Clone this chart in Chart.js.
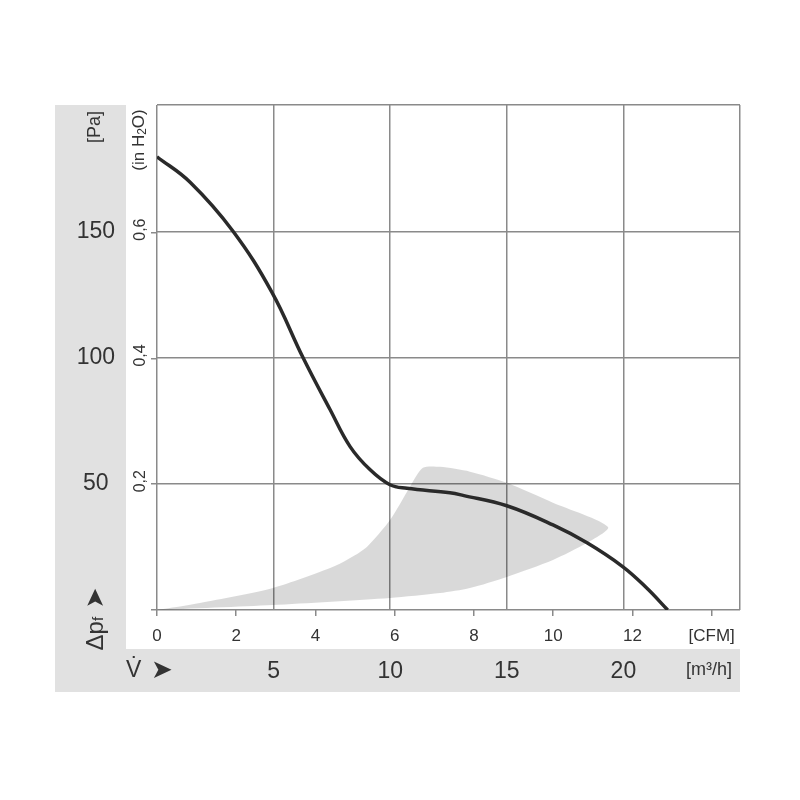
<!DOCTYPE html>
<html>
<head>
<meta charset="utf-8">
<script src="https://cdn.jsdelivr.net/npm/chart.js@4.4.1/dist/chart.umd.min.js"></script>
<style>
  body { margin: 0; background: #fff; }
  #wrap { width: 800px; height: 800px; }
</style>
</head>
<body>
<div id="wrap"><canvas id="fanChart"></canvas></div>
<script>
// Fan curve: flow in m³/h, static pressure in Pa
const flowM3h    = [0, 1.42, 3.26, 4.93, 6.26, 7.42, 8.28, 9.13, 9.99, 10.72, 12.56, 13.12, 15.0, 16.98, 18.44, 19.98, 21.0, 21.9];
const pressurePa = [179.5, 169.4, 150, 125.8, 100, 79.4, 64.7, 55.6, 49.6, 48.2, 46.4, 45.4, 41.3, 33.7, 26.6, 17.1, 8.7, 0];

// Grey operating zone outline (goes round from the origin and back)
const zoneFlow = [0, 1.84, 4.97, 7.55, 8.28, 9.0, 10.0, 10.85, 11.4, 12.14, 13.42, 15.0, 16.98, 19.34, 18.44, 16.98, 15.0, 13.42, 12.14, 10.0, 4.97, 0];
const zonePa   = [0, 2.8, 8.7, 17.1, 20.6, 25.0, 35.7, 48.8, 56.3, 56.7, 54.8, 50.4, 42.5, 32.9, 26.6, 19.8, 13.1, 8.7, 6.7, 4.8, 2.0, 0];

// Tick labels
const paTicks    = [0, 50, 100, 150, 200];
const inH2OTicks = [0, 0.2, 0.4, 0.6];
const cfmTicks   = [0, 2, 4, 6, 8, 10, 12, 14];
const m3hTicks   = [0, 5, 10, 15, 20, 25];

const M3H_PER_CFM = 1.699;
const PA_PER_INH2O = 249.089;
const FONT = '"Liberation Sans", Arial, sans-serif';
const TEXT = '#333';
const GRID = '#8a8a8a';

function setTicks(list) {
    return (scale) => { scale.ticks = list.map(v => ({ value: v })); };
}

// draw text turned 90° anticlockwise, pieces run bottom to top
function drawUpText(ctx, x, y, pieces) {
    ctx.save();
    ctx.translate(x, y);
    ctx.rotate(-Math.PI / 2);
    ctx.textBaseline = 'middle';
    ctx.textAlign = 'left';
    let total = 0;
    pieces.forEach(p => { ctx.font = p.font; total += ctx.measureText(p.text).width; });
    let pos = -total / 2;
    pieces.forEach(p => {
        ctx.font = p.font;
        ctx.fillText(p.text, pos, p.dy || 0);
        pos += ctx.measureText(p.text).width;
    });
    ctx.restore();
}

const fanLabels = {
    id: 'fanLabels',
    beforeDraw(chart) {
        const { ctx, chartArea, scales } = chart;
        const yPa = scales.y, xM = scales.x;
        ctx.save();
        ctx.fillStyle = '#fff';
        ctx.fillRect(0, 0, chart.width, chart.height);
        ctx.fillStyle = '#e1e1e1';
        ctx.fillRect(yPa.left, chartArea.top, yPa.width, xM.bottom - chartArea.top);
        ctx.fillRect(yPa.left, xM.top, chartArea.right - yPa.left, xM.height);
        ctx.restore();
    },
    afterDraw(chart) {
        const { ctx, chartArea, scales } = chart;
        const yIn = scales.yIn, xM = scales.x;
        const midM = (xM.top + xM.bottom) / 2;
        ctx.save();
        ctx.fillStyle = TEXT;

        // inH2O tick labels
        inH2OTicks.filter(v => v > 0).forEach(v => {
            drawUpText(ctx, 141, yIn.getPixelForValue(v) - 3, [{ text: v.toFixed(1).replace('.', ','), font: '16px ' + FONT }]);
        });
        drawUpText(ctx, 139, chartArea.top + 35, [
            { text: '(in H', font: '17px ' + FONT },
            { text: '2', font: '12px ' + FONT, dy: 4 },
            { text: 'O)', font: '17px ' + FONT }
        ]);

        // Pa unit and axis symbol
        drawUpText(ctx, 95, chartArea.top + 22, [{ text: '[Pa]', font: '18px ' + FONT }]);
        drawUpText(ctx, 96, 619, [
            { text: 'Δp', font: '24px ' + FONT },
            { text: 'f', font: '15px ' + FONT, dy: 3 },
            { text: '  ', font: '15px ' + FONT },
            { text: '➤', font: '25px "DejaVu Sans"' }
        ]);

        // flow axis symbol and unit
        ctx.textBaseline = 'middle';
        ctx.textAlign = 'left';
        ctx.font = '23px ' + FONT;
        ctx.fillText('V\u0307', 126, midM);
        ctx.font = '26px "DejaVu Sans"';
        ctx.fillText('➤', 151, midM + 1);
        ctx.textAlign = 'center';
        ctx.font = '18px ' + FONT;
        ctx.fillText('[m³/h]', 709, midM);
        ctx.restore();
    }
};

new Chart(document.getElementById('fanChart'), {
    type: 'line',
    data: {
        datasets: [
            {
                data: flowM3h.map((x, i) => ({ x, y: pressurePa[i] })),
                borderColor: '#2a2a2a',
                borderWidth: 3.5,
                pointRadius: 0,
                tension: 0.4,
                fill: false
            },
            {
                data: zoneFlow.map((x, i) => ({ x, y: zonePa[i] })),
                borderColor: 'rgba(0,0,0,0)',
                borderWidth: 0,
                backgroundColor: 'rgba(0,0,0,0.15)',
                pointRadius: 0,
                tension: 0.25,
                fill: 'shape'
            }
        ]
    },
    options: {
        responsive: true,
        maintainAspectRatio: false,
        animation: false,
        events: [],
        layout: { padding: { left: 55, right: 60, top: 105, bottom: 108 } },
        plugins: { legend: { display: false }, tooltip: { enabled: false } },
        scales: {
            x: {
                type: 'linear', position: 'bottom', weight: 1,
                min: 0, max: 25,
                afterBuildTicks: setTicks(m3hTicks),
                afterFit: s => { s.height = 43; },
                grid: { color: GRID, lineWidth: 1.5, drawTicks: false },
                border: { display: false },
                ticks: {
                    padding: 9, color: TEXT, font: { family: FONT, size: 23 },
                    callback: v => (v === 0 || v === 25) ? '' : String(v)
                }
            },
            xCfm: {
                type: 'linear', position: 'bottom', weight: 0,
                min: 0, max: 25 / M3H_PER_CFM,
                afterBuildTicks: setTicks(cfmTicks),
                afterFit: s => { s.height = 39; },
                grid: { drawOnChartArea: false, drawTicks: true, tickLength: 6, color: GRID, lineWidth: 1.5 },
                border: { display: false },
                ticks: {
                    padding: 10, color: TEXT, font: { family: FONT, size: 17 },
                    callback: v => v === 14 ? '[CFM]' : String(v)
                }
            },
            y: {
                type: 'linear', position: 'left', weight: 1,
                min: 0, max: 200,
                afterBuildTicks: setTicks(paTicks),
                afterFit: s => { s.width = 71; },
                grid: { color: GRID, lineWidth: 1.5, drawTicks: false },
                border: { display: false },
                ticks: {
                    crossAlign: 'center', padding: 11, color: TEXT, font: { family: FONT, size: 23 },
                    callback: v => (v === 0 || v === 200) ? '' : String(v)
                }
            },
            yIn: {
                type: 'linear', position: 'left', weight: 0,
                min: 0, max: 200 / PA_PER_INH2O,
                afterBuildTicks: setTicks(inH2OTicks),
                afterFit: s => { s.width = 31; },
                grid: { drawOnChartArea: false, drawTicks: true, tickLength: 6, color: GRID, lineWidth: 1.5 },
                border: { display: false },
                ticks: { display: false }
            }
        }
    },
    plugins: [fanLabels]
});
</script>
</body>
</html>
